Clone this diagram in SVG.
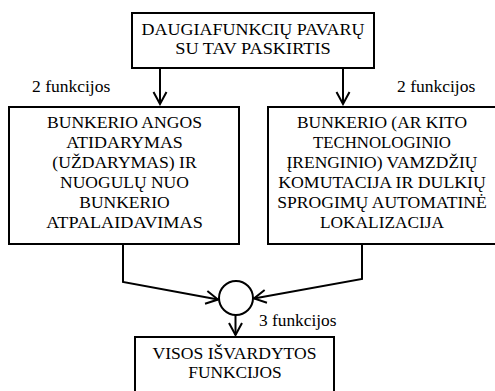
<svg xmlns="http://www.w3.org/2000/svg" width="495" height="391" viewBox="0 0 495 391" font-family="Liberation Serif, Times New Roman, serif" font-size="17">
<style>
.box{fill:#fff;stroke:#000;stroke-width:2}
.c{text-anchor:middle}
.ln{fill:none;stroke:#000;stroke-width:2}
text{fill:#000}
</style>
<defs>
<marker id="ah" markerUnits="userSpaceOnUse" markerWidth="16" markerHeight="16" viewBox="-14 -8 16 16" refX="0" refY="0" orient="auto">
<path d="M-12,-6.5 L0,0 L-12,6.5" fill="none" stroke="#000" stroke-width="2"/>
</marker>
</defs>
<rect width="495" height="391" fill="#fff"/>
<g id="connectors">
<line class="ln" x1="160" y1="68" x2="160" y2="104" marker-end="url(#ah)"/>
<line class="ln" x1="343" y1="68" x2="343" y2="104" marker-end="url(#ah)"/>
<polyline class="ln" points="123,244 123,282 218,299.5" marker-end="url(#ah)"/>
<polyline class="ln" points="362,244 362,279 254,298.5" marker-end="url(#ah)"/>
<line class="ln" x1="235.5" y1="315" x2="235.5" y2="335" marker-end="url(#ah)"/>
</g>
<g id="top">
<rect class="box" x="132" y="13" width="242" height="55"/>
<text class="c" x="253" y="35" textLength="223" lengthAdjust="spacingAndGlyphs">DAUGIAFUNKCIŲ PAVARŲ</text>
<text class="c" x="253" y="54" textLength="155.6" lengthAdjust="spacingAndGlyphs">SU TAV PASKIRTIS</text>
</g>
<g id="label-left">
<text x="32" y="92" textLength="78.3" lengthAdjust="spacingAndGlyphs">2 funkcijos</text>
</g>
<g id="label-right">
<text x="397" y="92" textLength="78.3" lengthAdjust="spacingAndGlyphs">2 funkcijos</text>
</g>
<g id="left">
<rect class="box" x="9" y="107" width="230" height="137"/>
<text class="c" x="124.5" y="128" textLength="155.1" lengthAdjust="spacingAndGlyphs">BUNKERIO ANGOS</text>
<text class="c" x="124.5" y="148" textLength="116.7" lengthAdjust="spacingAndGlyphs">ATIDARYMAS</text>
<text class="c" x="124.5" y="168" textLength="144.4" lengthAdjust="spacingAndGlyphs">(UŽDARYMAS) IR</text>
<text class="c" x="124.5" y="188" textLength="128.8" lengthAdjust="spacingAndGlyphs">NUOGULŲ NUO</text>
<text class="c" x="124.5" y="208" textLength="90.4" lengthAdjust="spacingAndGlyphs">BUNKERIO</text>
<text class="c" x="124.5" y="228" textLength="156.5" lengthAdjust="spacingAndGlyphs">ATPALAIDAVIMAS</text>
</g>
<g id="right">
<rect class="box" x="268" y="107" width="232" height="137"/>
<text class="c" x="382" y="128" textLength="170" lengthAdjust="spacingAndGlyphs">BUNKERIO (AR KITO</text>
<text class="c" x="382" y="148" textLength="138" lengthAdjust="spacingAndGlyphs">TECHNOLOGINIO</text>
<text class="c" x="382" y="168" textLength="191" lengthAdjust="spacingAndGlyphs">ĮRENGINIO) VAMZDŽIŲ</text>
<text class="c" x="382" y="188" textLength="207.5" lengthAdjust="spacingAndGlyphs">KOMUTACIJA IR DULKIŲ</text>
<text class="c" x="382" y="208" textLength="209.5" lengthAdjust="spacingAndGlyphs">SPROGIMŲ AUTOMATINĖ</text>
<text class="c" x="382" y="228" textLength="124" lengthAdjust="spacingAndGlyphs">LOKALIZACIJA</text>
</g>
<g id="junction">
<circle cx="236" cy="298" r="17" fill="#fff" stroke="#000" stroke-width="2"/>
</g>
<g id="label-bottom">
<text x="259" y="326" textLength="77.5" lengthAdjust="spacingAndGlyphs">3 funkcijos</text>
</g>
<g id="bottom">
<rect class="box" x="135" y="337" width="199" height="70"/>
<text class="c" x="234.5" y="359" textLength="164" lengthAdjust="spacingAndGlyphs">VISOS IŠVARDYTOS</text>
<text class="c" x="235" y="378" textLength="93.5" lengthAdjust="spacingAndGlyphs">FUNKCIJOS</text>
</g>
</svg>
